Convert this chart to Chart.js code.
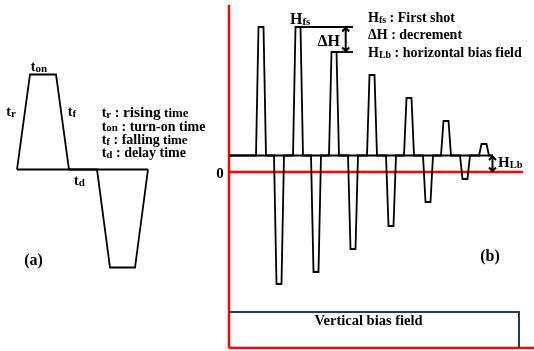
<!DOCTYPE html>
<html>
<head>
<meta charset="utf-8">
<script src="https://cdn.jsdelivr.net/npm/chart.js@4"></script>
<style>
  html, body { margin: 0; padding: 0; background: #fff; }
  #wrap { width: 534px; height: 351px; }
</style>
</head>
<body>
<div id="wrap"><canvas id="chart" width="534" height="351"></canvas></div>
<script>
// Panel (a) - single bipolar pulse (time, level)
const aTimes  = [0, 13, 39, 52, 80, 93, 118, 131];
const aLevels = [0, 95, 95, 0, 0, -98, -98, 0];

// Panel (b) - decaying pulse train sitting on the horizontal bias
const biasLevel = 16.5;
const posStarts = [27, 64, 100, 138, 175, 212, 250];
const posPeaks  = [145, 145, 120, 97, 74, 51, 28];
const negStarts = [45, 82, 119, 157, 194, 231];
const negPeaks  = [-112, -100, -77, -54, -30, -7];
const trainEnd = 264;
const zeroEnd = 294;
const axisTop = 167, axisBottom = -176, axisRight = 305;
const vbiasTop = -140, vbiasEnd = 290;

// pulse shape (rise / flat top)
const RISE = 2.5, TOP = 5;

let pulses = posStarts.map((s, i) => ({ s: s, p: posPeaks[i] }))
  .concat(negStarts.map((s, i) => ({ s: s, p: negPeaks[i] })))
  .sort((a, b) => a.s - b.s);

let wave = [{ x: 0, y: biasLevel }];
pulses.forEach(q => {
  wave.push({ x: q.s, y: biasLevel });
  wave.push({ x: q.s + RISE, y: q.p });
  wave.push({ x: q.s + RISE + TOP, y: q.p });
  wave.push({ x: q.s + 2 * RISE + TOP, y: biasLevel });
});
wave.push({ x: trainEnd, y: biasLevel });

let aPulse = aTimes.map((t, i) => ({ x: t, y: aLevels[i] }));

// first shot / decrement marker lines
const hfsLine = [{ x: 71, y: posPeaks[1] }, { x: 124, y: posPeaks[1] }];
const dhLine = [{ x: 108, y: posPeaks[2] }, { x: 124, y: posPeaks[2] }];

function line(data, color, width, xa, ya) {
  return {
    data: data, borderColor: color, borderWidth: width,
    pointRadius: 0, tension: 0, fill: false,
    xAxisID: xa, yAxisID: ya, clip: false
  };
}

// text labels: panel, anchor (data units), parts [text, size, dy]
const SERIF = '"Liberation Serif", "Times New Roman", serif';
const labels = [
  { p: 'a', x: 22, y: 98.5, al: 'center', parts: [['t', 14], ['on', 11, 0.5]] },
  { p: 'a', x: -6, y: 53.5, al: 'center', parts: [['t', 14], ['r', 11, 0.5]] },
  { p: 'a', x: 55, y: 53.5, al: 'center', parts: [['t', 14], ['f', 11, 0.5]] },
  { p: 'a', x: 62.5, y: -15.5, al: 'center', parts: [['t', 14], ['d', 11, 0.5]] },
  { p: 'a', x: 84.7, y: 52.5, al: 'left', parts: [['t', 14], ['r', 11, 0.5], [' : ', 14], ['rising', 15.5], [' time', 13]] },
  { p: 'a', x: 84.7, y: 39, al: 'left', parts: [['t', 14], ['on', 11, 0.5], [' : turn-on time', 14]] },
  { p: 'a', x: 84.7, y: 25.5, al: 'left', parts: [['t', 14], ['f', 11, 0.5], [' : falling', 14], [' time', 13]] },
  { p: 'a', x: 84.7, y: 12.5, al: 'left', parts: [['t', 14], ['d', 11, 0.5], [' : delay time', 14]] },
  { p: 'a', x: 16.5, y: -95.5, al: 'center', parts: [['(a)', 16]] },
  { p: 'b', x: 61, y: 148.5, al: 'left', parts: [['H', 16], ['fs', 11, 1]] },
  { p: 'b', x: 111, y: 126, al: 'right', parts: [['\u0394H', 16]] },
  { p: 'b', x: 139, y: 150.5, al: 'left', parts: [['H', 14], ['fs', 10, 1], [' : First shot', 14]] },
  { p: 'b', x: 139, y: 133, al: 'left', parts: [['\u0394H : decrement', 14]] },
  { p: 'b', x: 139, y: 115, al: 'left', parts: [['H', 14], ['Lb', 10, 1], [' : horizontal bias field', 14]] },
  { p: 'b', x: 269, y: 5, al: 'left', parts: [['H', 15], ['Lb', 10.5, 1]] },
  { p: 'b', x: -9, y: -6, al: 'center', parts: [['0', 15]] },
  { p: 'b', x: 261, y: -88.5, al: 'center', parts: [['(b)', 16]] },
  { p: 'b', x: 139.5, y: -152.5, al: 'center', parts: [['Vertical bias field', 14.5]] }
];

// double arrows in panel (b): x, from, to
const arrows = [
  { x: 116.7, y1: posPeaks[1], y2: posPeaks[2] },
  { x: 263.5, y1: biasLevel, y2: 0 }
];

const annotate = {
  id: 'annotate',
  afterDatasetsDraw(chart) {
    const ctx = chart.ctx;
    const sc = chart.scales;
    ctx.save();
    ctx.fillStyle = '#000';
    ctx.textBaseline = 'alphabetic';
    labels.forEach(l => {
      const px = sc['x' + l.p].getPixelForValue(l.x);
      const py = sc['y' + l.p].getPixelForValue(l.y);
      let w = 0;
      l.parts.forEach(pt => {
        ctx.font = 'bold ' + pt[1] + 'px ' + SERIF;
        w += ctx.measureText(pt[0]).width;
      });
      let x = l.al === 'center' ? px - w / 2 : (l.al === 'right' ? px - w : px);
      l.parts.forEach(pt => {
        ctx.font = 'bold ' + pt[1] + 'px ' + SERIF;
        ctx.textAlign = 'left';
        ctx.fillText(pt[0], x, py + (pt[2] || 0));
        x += ctx.measureText(pt[0]).width;
      });
    });
    ctx.strokeStyle = '#000';
    ctx.lineWidth = 2;
    arrows.forEach(a => {
      const x = sc.xb.getPixelForValue(a.x);
      const y1 = sc.yb.getPixelForValue(a.y1);
      const y2 = sc.yb.getPixelForValue(a.y2);
      ctx.beginPath();
      ctx.moveTo(x, y1 + 1);
      ctx.lineTo(x, y2 - 1);
      ctx.moveTo(x - 3.5, y1 + 4.5); ctx.lineTo(x, y1 + 1); ctx.lineTo(x + 3.5, y1 + 4.5);
      ctx.moveTo(x - 3.5, y2 - 4.5); ctx.lineTo(x, y2 - 1); ctx.lineTo(x + 3.5, y2 - 4.5);
      ctx.stroke();
    });
    ctx.restore();
  }
};

new Chart(document.getElementById('chart'), {
  type: 'line',
  data: {
    datasets: [
      line([{ x: 0, y: vbiasTop }, { x: vbiasEnd, y: vbiasTop }, { x: vbiasEnd, y: axisBottom }], '#1f3864', 2, 'xb', 'yb'),
      line([{ x: 0, y: biasLevel }, { x: trainEnd, y: biasLevel }], '#000', 1.8, 'xb', 'yb'),
      line(wave, '#000', 1.8, 'xb', 'yb'),
      line(hfsLine, '#000', 1.8, 'xb', 'yb'),
      line(dhLine, '#000', 1.8, 'xb', 'yb'),
      line([{ x: 0, y: 0 }, { x: zeroEnd, y: 0 }], '#ff0000', 2.5, 'xb', 'yb'),
      line([{ x: 0, y: axisTop }, { x: 0, y: axisBottom }], '#ff0000', 2.5, 'xb', 'yb'),
      line([{ x: 0, y: axisBottom }, { x: axisRight, y: axisBottom }], '#ff0000', 2.5, 'xb', 'yb'),
      line([{ x: aTimes[0], y: 0 }, { x: aTimes[aTimes.length - 1], y: 0 }], '#000', 1.8, 'xa', 'ya'),
      line(aPulse, '#000', 1.8, 'xa', 'ya')
    ]
  },
  options: {
    responsive: false,
    animation: false,
    devicePixelRatio: 1,
    layout: { padding: 0 },
    plugins: { legend: { display: false }, tooltip: { enabled: false } },
    scales: {
      xa: { type: 'linear', display: false, min: -17, max: 517 },
      ya: { type: 'linear', display: false, min: -181.5, max: 169.5 },
      xb: { type: 'linear', display: false, min: -229, max: 305 },
      yb: { type: 'linear', display: false, min: -179, max: 172 }
    }
  },
  plugins: [annotate]
});
</script>
</body>
</html>
